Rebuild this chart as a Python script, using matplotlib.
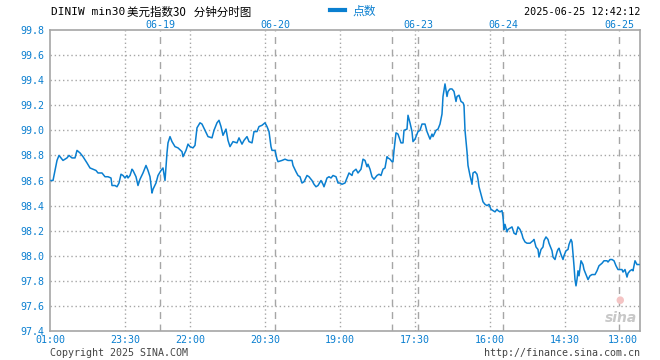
import numpy as np
import matplotlib
matplotlib.use("Agg")
import matplotlib.pyplot as plt

plt.rcParams['font.family'] = ['DejaVu Sans Mono', 'Noto Sans CJK SC']

# sample index (30-min bars) and index points
t = [1, 3, 5, 7, 9, 11, 13, 17, 19, 22, 25, 27, 30, 33, 37, 40, 43, 46, 48, 52,
     55, 58, 61, 62, 65, 67, 69, 71, 73, 75, 77, 78, 80, 82, 83, 86, 88, 90, 93, 96,
     98, 100, 102, 103, 106, 108, 111, 113, 115, 117, 118, 120, 122, 125, 128, 132, 133, 136, 138, 140,
     143, 145, 147, 150, 152, 155, 158, 162, 164, 167, 169, 171, 173, 176, 178, 180, 183, 187, 189, 192,
     194, 197, 199, 202, 204, 207, 209, 212, 215, 217, 219, 221, 222, 225, 227, 228, 232, 235, 238, 242,
     243, 246, 248, 250, 252, 254, 257, 259, 262, 264, 266, 268, 271, 273, 274, 277, 279, 281, 283, 286,
     288, 290, 292, 295, 297, 299, 302, 303, 306, 308, 311, 313, 315, 317, 318, 320, 322, 324, 327, 329,
     331, 333, 335, 337, 338, 340, 342, 343, 344, 346, 348, 351, 353, 354, 357, 358, 360, 362, 363, 365,
     367, 368, 370, 372, 375, 377, 378, 380, 382, 383, 386, 388, 390, 392, 393, 395, 397, 398, 400, 402,
     404, 406, 407, 409, 411, 413, 414, 415, 417, 418, 420, 422, 423, 425, 427, 428, 429, 431, 433, 435,
     437, 439, 441, 443, 445, 447, 448, 450, 452, 453, 454, 455, 457, 458, 460, 462, 464, 466, 468, 470,
     472, 473, 475, 477, 480, 483, 484, 486, 488, 489, 491, 493, 494, 496, 498, 499, 502, 503, 505, 507,
     508, 509, 511, 513, 514, 516, 518, 519, 521, 522, 524, 525, 526, 527, 528, 529, 531, 533, 534, 536,
     538, 540, 542, 545, 547, 549, 552, 554, 557, 558, 560, 562, 564, 566, 568, 570, 572, 573, 575, 577,
     578, 580, 582, 583, 585, 587, 589]
points = [98.60, 98.60, 98.68, 98.76, 98.80, 98.78, 98.76, 98.78, 98.80, 98.78, 98.78, 98.84, 98.82, 98.79, 98.74, 98.70, 98.69, 98.68, 98.66, 98.66,
          98.63, 98.63, 98.62, 98.56, 98.56, 98.55, 98.58, 98.65, 98.64, 98.62, 98.64, 98.62, 98.64, 98.69, 98.68, 98.63, 98.56, 98.61, 98.66, 98.72,
          98.68, 98.63, 98.50, 98.53, 98.58, 98.64, 98.68, 98.70, 98.60, 98.82, 98.90, 98.95, 98.91, 98.87, 98.86, 98.83, 98.79, 98.84, 98.89, 98.87,
          98.86, 98.88, 99.02, 99.06, 99.05, 99.00, 98.95, 98.94, 99.00, 99.06, 99.08, 99.03, 98.96, 99.01, 98.92, 98.87, 98.91, 98.90, 98.94, 98.89,
          98.92, 98.95, 98.91, 98.90, 98.99, 98.99, 99.03, 99.04, 99.06, 99.03, 98.99, 98.87, 98.84, 98.84, 98.77, 98.75, 98.76, 98.77, 98.76, 98.76,
          98.72, 98.67, 98.64, 98.63, 98.58, 98.59, 98.64, 98.63, 98.60, 98.57, 98.55, 98.56, 98.60, 98.57, 98.55, 98.62, 98.63, 98.62, 98.64, 98.63,
          98.58, 98.58, 98.57, 98.58, 98.62, 98.66, 98.64, 98.67, 98.69, 98.66, 98.69, 98.77, 98.76, 98.71, 98.73, 98.69, 98.63, 98.61, 98.64, 98.65,
          98.64, 98.69, 98.70, 98.79, 98.78, 98.77, 98.75, 98.75, 98.84, 98.98, 98.97, 98.90, 98.90, 99.00, 99.01, 99.12, 99.06, 98.99, 98.91, 98.93,
          98.97, 98.99, 99.00, 99.05, 99.05, 98.99, 98.97, 98.93, 98.97, 98.95, 99.00, 99.01, 99.05, 99.13, 99.27, 99.37, 99.27, 99.31, 99.33, 99.33,
          99.31, 99.23, 99.27, 99.28, 99.23, 99.22, 99.20, 99.00, 98.83, 98.72, 98.64, 98.57, 98.66, 98.67, 98.65, 98.61, 98.55, 98.49, 98.43, 98.41,
          98.40, 98.41, 98.37, 98.36, 98.35, 98.37, 98.36, 98.35, 98.36, 98.31, 98.21, 98.25, 98.19, 98.21, 98.22, 98.23, 98.18, 98.17, 98.23, 98.21,
          98.17, 98.14, 98.11, 98.10, 98.10, 98.12, 98.13, 98.07, 98.05, 97.99, 98.05, 98.07, 98.12, 98.15, 98.13, 98.10, 98.04, 97.99, 97.97, 98.03,
          98.05, 98.06, 98.01, 97.97, 98.00, 98.04, 98.05, 98.09, 98.13, 98.11, 97.92, 97.81, 97.76, 97.81, 97.88, 97.84, 97.96, 97.93, 97.89, 97.85,
          97.81, 97.84, 97.85, 97.85, 97.88, 97.92, 97.94, 97.96, 97.96, 97.95, 97.97, 97.97, 97.96, 97.92, 97.89, 97.89, 97.89, 97.87, 97.89, 97.83,
          97.86, 97.88, 97.89, 97.88, 97.96, 97.93, 97.93]

time_ticks = [0, 75, 140, 215, 290, 365, 440, 515, 573]
time_labels = ["01:00", "23:30", "22:00", "20:30", "19:00", "17:30", "16:00", "14:30", "13:00"]
grid_ticks = [75, 140, 215, 290, 365, 440, 515]
day_lines = [110, 225, 342, 368, 453, 569]
day_ticks = [110, 225, 368, 453, 569]
day_labels = ["06-19", "06-20", "06-23", "06-24", "06-25"]
y_ticks = [97.4, 97.6, 97.8, 98.0, 98.2, 98.4, 98.6, 98.8, 99.0, 99.2, 99.4, 99.6, 99.8]

blue = "#0a7fd0"
gray = "#a6a6a6"

fig = plt.figure(figsize=(6.6, 3.6), dpi=100)
ax = fig.add_axes([50/660, 1 - 331/360, 590/660, 301/360])

for y in y_ticks[1:-1]:
    ax.axhline(y, color=gray, lw=1, ls=(0, (1, 2)), zorder=1)
for x in grid_ticks:
    ax.axvline(x, color=gray, lw=1, ls=(0, (1, 2)), zorder=1)
for x in day_lines:
    ax.axvline(x, color=gray, lw=1, ls=(0, (5, 4)), zorder=1)

ax.plot(t, points, color=blue, lw=1.1, zorder=3)

ax.set_xlim(0, 590)
ax.set_ylim(97.4, 99.8)
ax.set_yticks(y_ticks)
ax.set_yticklabels([f"{v:.1f}" for v in y_ticks])
ax.set_xticks(time_ticks)
ax.set_xticklabels(time_labels)
ax.tick_params(axis="both", length=0, colors=blue, labelsize=7.2)
ax.tick_params(axis="y", pad=4)
ax.tick_params(axis="x", pad=3)
for s in ax.spines.values():
    s.set_color(gray)
    s.set_linewidth(1.2)

# date labels on top
ax2 = ax.twiny()
ax2.set_xlim(0, 590)
ax2.set_xticks(day_ticks)
ax2.set_xticklabels(day_labels)
ax2.tick_params(axis="x", length=0, colors=blue, labelsize=7.2, pad=0)
for s in ax2.spines.values():
    s.set_visible(False)

# header
fig.text(51/660, 1 - 12/360, "DINIW min30", fontsize=8, color="black", va="center")
fig.text(127/660, 1 - 12/360, "美元指数30   分钟分时图", fontsize=8.3, color="black", va="center",
         family=['Noto Sans CJK SC', 'DejaVu Sans'])
fig.add_artist(plt.Line2D([330/660, 345/660], [1 - 10/360, 1 - 10/360], color=blue, lw=3))
fig.text(352/660, 1 - 11/360, "点数", fontsize=8.5, color=blue, va="center",
         family=['Noto Sans CJK SC', 'DejaVu Sans'])
fig.text(640/660, 1 - 12/360, "2025-06-25 12:42:12", fontsize=7.3, color="black", va="center", ha="right")

# footer
fig.text(50/660, 1 - 353/360, "Copyright 2025 SINA.COM", fontsize=7.2, color="#444444", va="center")
fig.text(640/660, 1 - 353/360, "http://finance.sina.com.cn", fontsize=7.2, color="#444444", va="center", ha="right")

# watermark
ax.text(0.995, 0.02, "sina", transform=ax.transAxes, ha="right", va="bottom", fontsize=10,
        fontweight="bold", fontstyle="italic", color="#c8c8c8", family="DejaVu Sans", zorder=2)
ax.text(0.965, 0.085, "●", transform=ax.transAxes, ha="center", va="bottom", fontsize=7,
        color="#f4c4c4", family="DejaVu Sans", zorder=2)

fig.savefig("out.png", dpi=100)
